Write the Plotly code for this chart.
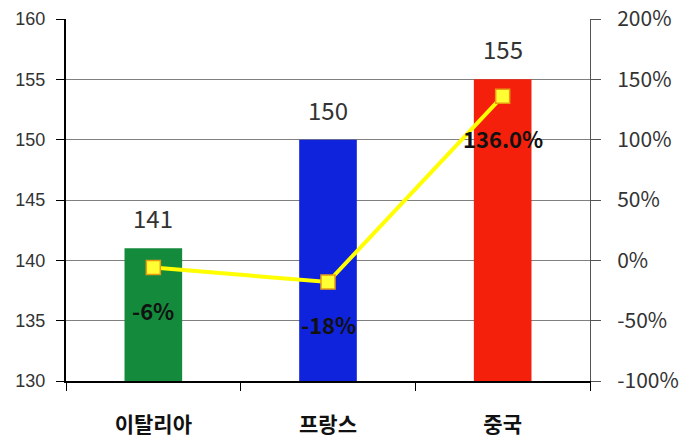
import plotly.graph_objects as go

# Data
countries = ["이탈리아", "프랑스", "중국"]
values = [141, 150, 155]
growth = [-6, -18, 136.0]
growth_labels = ["-6%", "-18%", "136.0%"]
bar_colors = ["#148a3c", "#0f22dc", "#f5200c"]

left_ticks = [130, 135, 140, 145, 150, 155, 160]
right_ticks = [-100, -50, 0, 50, 100, 150, 200]
right_tick_text = [f"{v}%" for v in right_ticks]

fig = go.Figure()

fig.add_trace(go.Bar(
    x=countries, y=values, marker=dict(color=bar_colors, line=dict(width=0)),
    showlegend=False, hoverinfo="skip",
))

fig.add_trace(go.Scatter(
    x=countries, y=growth, yaxis="y2", mode="lines+markers",
    line=dict(color="#ffff00", width=4),
    marker=dict(symbol="square", size=14, color="#ffff33",
                line=dict(color="#e89a10", width=1.5)),
    showlegend=False, hoverinfo="skip",
))

# value labels above bars
for c, v in zip(countries, values):
    fig.add_annotation(x=c, y=v, yref="y", text=str(v), showarrow=False,
                       yanchor="bottom", yshift=11,
                       font=dict(family="Noto Sans CJK KR", size=24, color="#333333"))

# growth labels below markers
for c, g, t in zip(countries, growth, growth_labels):
    fig.add_annotation(x=c, y=g, yref="y2", text=f"<b>{t}</b>", showarrow=False,
                       yanchor="middle", yshift=-42,
                       font=dict(family="Noto Sans CJK KR", size=22, color="#111111"))

fig.update_layout(
    width=688, height=440,
    margin=dict(l=66, r=98, t=19, b=59),
    paper_bgcolor="white", plot_bgcolor="white",
    bargap=0.67,
    xaxis=dict(
        type="category", tickson="boundaries", ticks="outside", ticklen=8,
        tickcolor="black", tickwidth=1, automargin=False,
        showline=True, linecolor="black", linewidth=2,
        showgrid=False, ticklabelstandoff=24,
        tickfont=dict(family="Noto Sans CJK KR", size=21, color="#111111"),
        tickprefix="<b>", ticksuffix="</b>",
    ),
    yaxis=dict(
        range=[130, 160], tickvals=left_ticks,
        showgrid=True, gridcolor="#808080", gridwidth=1,
        showline=True, linecolor="black", linewidth=2, automargin=False,
        ticks="outside", ticklen=8, tickcolor="black",
        tickfont=dict(family="Liberation Sans", size=18, color="#333333"),
        zeroline=False, ticklabelstandoff=7,
    ),
    yaxis2=dict(
        overlaying="y", side="right", range=[-100, 200],
        tickvals=right_ticks, ticktext=right_tick_text,
        showgrid=False, zeroline=False, automargin=False,
        showline=True, linecolor="#555555", linewidth=1,
        ticks="outside", ticklen=10, tickcolor="#555555",
        ticklabelstandoff=12,
        tickfont=dict(family="Noto Sans CJK KR", size=21, color="#333333"),
    ),
)

fig.write_html("out.html")
